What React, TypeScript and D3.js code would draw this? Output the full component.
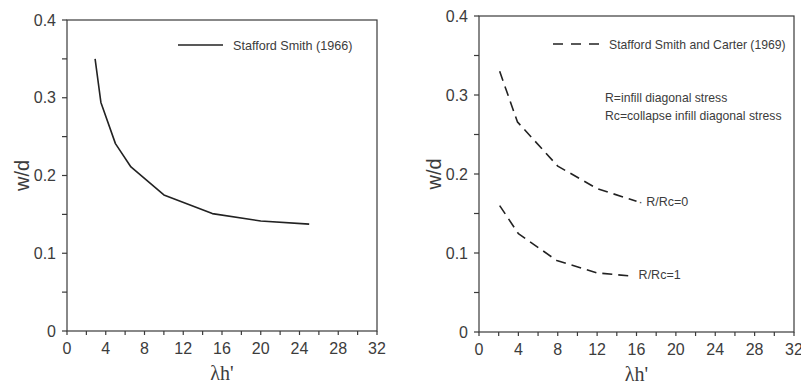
import React from "react";
import * as d3 from "d3";

// Stafford Smith (1966)
const smithX = [2.9, 3.5, 5, 6.6, 10, 15, 20, 25];
const smithY = [0.35, 0.294, 0.241, 0.211, 0.175, 0.151, 0.1415, 0.1375];

// Stafford Smith and Carter (1969)
const carter0X = [2.1, 3.9, 8, 12, 16];
const carter0Y = [0.33, 0.266, 0.21, 0.1815, 0.1655];
const carter1X = [2.1, 4, 7.9, 12, 15.3];
const carter1Y = [0.16, 0.1245, 0.0905, 0.0748, 0.071];

const xTicks = [0, 4, 8, 12, 16, 20, 24, 28, 32];
const xMinor = d3.range(0, 33, 2);
const yTicks = [0, 0.1, 0.2, 0.3, 0.4];
const yMinor = d3.range(0, 0.401, 0.05);

const axisColor = "#3a3a3a";
const textColor = "#3c3c3c";
const font = "Liberation Sans, Arial, sans-serif";

type Series = { xs: number[]; ys: number[]; dash?: string; label?: string; labelDx?: number; labelDy?: number };

const Panel = ({
  left, right, top, bottom, series, children,
}: {
  left: number; right: number; top: number; bottom: number; series: Series[]; children?: React.ReactNode;
}) => {
  const x = d3.scaleLinear().domain([0, 32]).range([left, right]);
  const y = d3.scaleLinear().domain([0, 0.4]).range([bottom, top]);
  const line = d3.line<[number, number]>().x(d => x(d[0])).y(d => y(d[1]));

  return (
    <g>
      <rect x={left} y={top} width={right - left} height={bottom - top} fill="none" stroke={axisColor} strokeWidth={1.2} />
      {xMinor.map(t => (
        <line key={"xt" + t} x1={x(t)} x2={x(t)} y1={bottom} y2={bottom + 4} stroke={axisColor} strokeWidth={1.2} />
      ))}
      {yMinor.map(t => (
        <line key={"yt" + t} x1={left - 5} x2={left} y1={y(t)} y2={y(t)} stroke={axisColor} strokeWidth={1.2} />
      ))}
      {xTicks.map(t => (
        <text key={"xl" + t} x={x(t)} y={bottom + 23} textAnchor="middle" fontSize={16} fill={textColor} fontFamily={font}>
          {t}
        </text>
      ))}
      {yTicks.map(t => (
        <text key={"yl" + t} x={left - 11} y={y(t) + 5.5} textAnchor="end" fontSize={16} fill={textColor} fontFamily={font}>
          {t === 0 ? "0" : d3.format(".1f")(t)}
        </text>
      ))}
      <text x={(left + right) / 2} y={bottom + 49} textAnchor="middle" fontSize={20} fill={textColor}
        fontFamily="Liberation Serif, Times New Roman, serif">
        λh'
      </text>
      <text transform={`translate(${left - 38},${(top + bottom) / 2}) rotate(-90)`} textAnchor="middle"
        fontSize={20} fill={textColor} fontFamily={font}>
        w/d
      </text>
      {series.map((s, i) => {
        const pts = s.xs.map((v, j) => [v, s.ys[j]] as [number, number]);
        const last = pts[pts.length - 1];
        return (
          <g key={i}>
            <path d={line(pts) || ""} fill="none" stroke="#222" strokeWidth={1.6} strokeDasharray={s.dash}
              strokeLinejoin="round" />
            {s.label && (
              <text x={x(last[0]) + (s.labelDx || 0)} y={y(last[1]) + (s.labelDy || 0)} fontSize={12.5} fill={textColor} fontFamily={font}>
                {s.label}
              </text>
            )}
          </g>
        );
      })}
      {children}
    </g>
  );
};

export default function App() {
  return (
    <svg width={801} height={385} style={{ display: "block", position: "absolute", left: 0, top: 0, background: "#fff" }}>
      <Panel left={67} right={377} top={20} bottom={331} series={[{ xs: smithX, ys: smithY }]}>
        <line x1={178} x2={223} y1={45} y2={45} stroke="#222" strokeWidth={1.6} />
        <text x={233} y={49.5} fontSize={12.6} fill={textColor} fontFamily={font}>Stafford Smith (1966)</text>
      </Panel>
      <Panel left={479} right={794} top={16} bottom={332} series={[
        { xs: carter0X, ys: carter0Y, dash: "10,6", label: "· R/Rc=0", labelDx: 2, labelDy: 4.5 },
        { xs: carter1X, ys: carter1Y, dash: "10,6", label: "R/Rc=1", labelDx: 9, labelDy: 3.5 },
      ]}>
        <line x1={553} x2={600} y1={44} y2={44} stroke="#222" strokeWidth={1.6} strokeDasharray="10,8" />
        <text x={609} y={48.5} fontSize={12.2} fill={textColor} fontFamily={font}>Stafford Smith and Carter (1969)</text>
        <text x={605} y={102} fontSize={12.2} fill={textColor} fontFamily={font}>R=infill diagonal stress</text>
        <text x={605} y={120} fontSize={12.2} fill={textColor} fontFamily={font}>Rc=collapse infill diagonal stress</text>
      </Panel>
    </svg>
  );
}
